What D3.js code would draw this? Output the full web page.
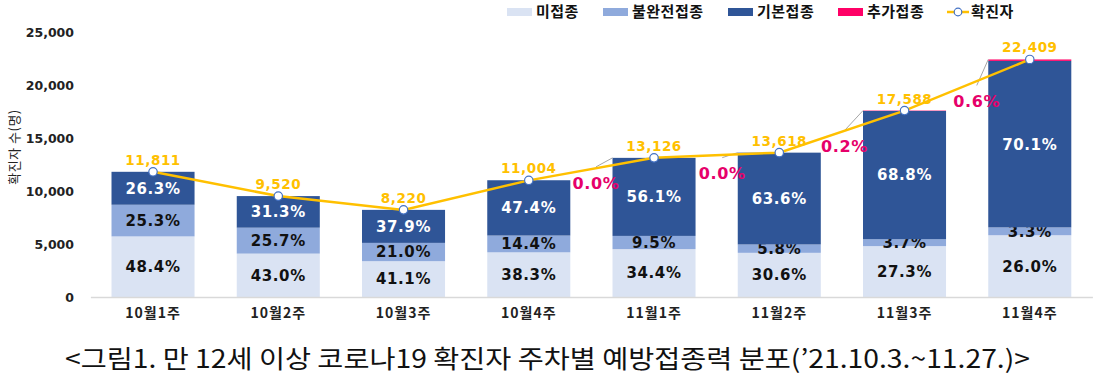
<!DOCTYPE html>
<html><head><meta charset="utf-8">
<script src="https://cdn.jsdelivr.net/npm/d3@7"></script>
<style>
body{margin:0;background:#fff;}
svg{display:block;font-family:"Noto Sans CJK KR","Noto Sans",sans-serif;}
</style></head>
<body><svg id="c" width="1099" height="377"></svg>
<script>
const weeks = ["10월1주","10월2주","10월3주","10월4주","11월1주","11월2주","11월3주","11월4주"];
const cases = [11811, 9520, 8220, 11004, 13126, 13618, 17588, 22409];
const unvaccinated = [48.4, 43.0, 41.1, 38.3, 34.4, 30.6, 27.3, 26.0];
const partial = [25.3, 25.7, 21.0, 14.4, 9.5, 5.8, 3.7, 3.3];
const primary = [26.3, 31.3, 37.9, 47.4, 56.1, 63.6, 68.8, 70.1];
const booster = [null, null, null, null, 0.0, 0.0, 0.2, 0.6];
const yTicks = [0, 5000, 10000, 15000, 20000, 25000];
const seriesNames = ["미접종","불완전접종","기본접종","추가접종"];
const lineName = "확진자";
const yTitle = "확진자 수(명)";
const title = "<그림1. 만 12세 이상 코로나19 확진자 주차별 예방접종력 분포(’21.10.3.~11.27.)>";

// layout-only offsets for booster callouts (relative to bar top-left)
const boosterDx = [0,0,0,0,-16.5,-15.5,-18.5,-11.5];
const boosterDy = [0,0,0,0,25,21,36,42];

const colors = ["#dae3f3","#8faadc","#2f5597","#ff0066"];
const labelColors = ["#111","#111","#fff"];
const gold = "#ffc000";
const numFont = "'DejaVu Sans','Noto Sans',sans-serif";

const svg = d3.select("#c");
const x = d3.scaleBand().domain(weeks).range([90.4, 1092.4]).paddingInner(0.337).paddingOuter(0.1685);
const y = d3.scaleLinear().domain([0, 25000]).range([297, 32]);

// y axis labels
const yAxis = d3.axisLeft(y).tickValues(yTicks).tickSize(0).tickPadding(0).tickFormat(d3.format(","));
const ga = svg.append("g").attr("transform","translate(74,0)").call(yAxis);
ga.select(".domain").remove();
ga.selectAll("text").attr("font-family",numFont).attr("font-weight","bold").attr("font-size",12.5).attr("fill","#222").attr("dy","0.35em");

svg.append("text").attr("transform","translate(19,147) rotate(-90)").attr("text-anchor","middle")
  .attr("font-size",13).attr("letter-spacing",0.5).attr("fill","#222").text(yTitle);

// stack data
const data = weeks.map((w,i)=>({w, total:cases[i], p:[unvaccinated[i], partial[i], primary[i], booster[i]||0]}));
const gBars = svg.append("g");
data.forEach((d,i)=>{
  let acc = 0;
  d.p.forEach((pct,k)=>{
    const v0 = d.total*acc/100, v1 = d.total*(acc+pct)/100;
    acc += pct;
    if (pct <= 0) return;
    gBars.append("rect").attr("x", x(d.w)).attr("width", x.bandwidth())
      .attr("y", y(v1)).attr("height", y(v0)-y(v1)).attr("fill", colors[k]);
    if (k < 3) {
      gBars.append("text").attr("x", x(d.w)+x.bandwidth()/2).attr("y",(y(v0)+y(v1))/2)
        .attr("dy","0.36em").attr("text-anchor","middle")
        .attr("font-family",numFont).attr("font-weight","bold").attr("font-size",15)
        .attr("letter-spacing",0.6)
        .attr("fill", labelColors[k]).text(pct.toFixed(1)+"%");
    }
  });
});

// x axis
const xAxis = d3.axisBottom(x).tickSize(0).tickPadding(0);
const gx = svg.append("g").attr("transform","translate(0,297)").call(xAxis);
gx.select(".domain").attr("stroke","#d9d9d9").attr("stroke-width",1.5);
gx.selectAll("text").attr("font-family","'Noto Sans CJK KR',sans-serif").attr("font-weight","bold").attr("font-size",14).attr("letter-spacing",1).attr("fill","#222").attr("y",21).attr("dy","0");

// booster callouts
data.forEach((d,i)=>{
  if (booster[i] === null) return;
  const bx = x(d.w), by = y(d.total);
  const cx = bx + boosterDx[i], cy = by + boosterDy[i];
  svg.append("line").attr("x1",cx).attr("y1",cy-16).attr("x2",bx).attr("y2",by)
    .attr("stroke","#a6a6a6").attr("stroke-width",1);
  svg.append("text").attr("x",cx).attr("y",cy).attr("dy","0.36em").attr("text-anchor","middle")
    .attr("font-family",numFont).attr("font-weight","bold").attr("font-size",16)
    .attr("letter-spacing",0.6)
    .attr("fill","#e6006a").text(booster[i].toFixed(1)+"%");
});

// line
const line = d3.line().x((d,i)=>x(weeks[i])+x.bandwidth()/2).y(d=>y(d));
svg.append("path").datum(cases).attr("d",line).attr("fill","none").attr("stroke",gold).attr("stroke-width",2.5);
svg.selectAll(".pt").data(cases).join("circle").attr("cx",(d,i)=>x(weeks[i])+x.bandwidth()/2).attr("cy",d=>y(d))
  .attr("r",4.2).attr("fill","#fff").attr("stroke","#4472c4").attr("stroke-width",1.2);
svg.selectAll(".vl").data(cases).join("text").attr("x",(d,i)=>x(weeks[i])+x.bandwidth()/2).attr("y",d=>y(d)-7)
  .attr("text-anchor","middle").attr("font-family",numFont).attr("font-weight","bold").attr("font-size",13.5)
  .attr("letter-spacing",0.6)
  .attr("fill",gold).text(d=>d3.format(",")(d));

// legend
const legX = [507, 603, 728, 838];
const lg = svg.append("g");
seriesNames.forEach((n,k)=>{
  lg.append("rect").attr("x",legX[k]).attr("y",8).attr("width",25).attr("height",8).attr("fill",colors[k]);
  lg.append("text").attr("x",legX[k]+29).attr("y",12).attr("dy","0.36em").attr("font-weight","bold").attr("font-size",15)
    .attr("fill","#111").attr("letter-spacing",0.5).text(n);
});
lg.append("line").attr("x1",947).attr("x2",969).attr("y1",12).attr("y2",12).attr("stroke",gold).attr("stroke-width",2.5);
lg.append("circle").attr("cx",958).attr("cy",12).attr("r",3.8).attr("fill","#fff").attr("stroke","#4472c4").attr("stroke-width",1.2);
lg.append("text").attr("x",971).attr("y",12).attr("dy","0.36em").attr("font-weight","bold").attr("font-size",15)
  .attr("fill","#111").attr("letter-spacing",0.5).text(lineName);

// title
svg.append("text").attr("x",65).attr("y",368).attr("font-size",25).attr("fill","#111")
  .attr("textLength",965).attr("lengthAdjust","spacingAndGlyphs").text(title);
</script></body></html>
